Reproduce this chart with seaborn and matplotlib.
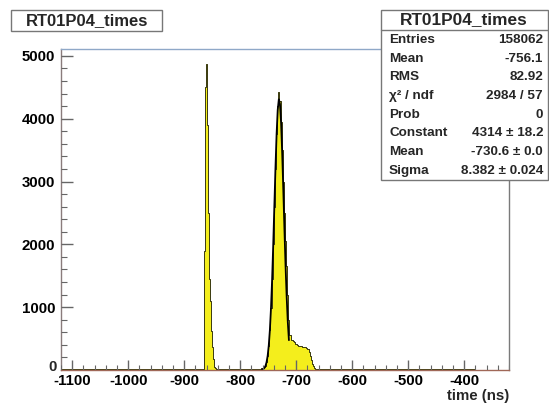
import numpy as np
import pandas as pd
import matplotlib
matplotlib.use("Agg")
import matplotlib.pyplot as plt
from matplotlib.patches import Rectangle
from matplotlib.ticker import MultipleLocator, FuncFormatter
import seaborn as sns

# flat background, 20 ns bins from -1120 to -320
BASE_EDGES = list(range(-1120, -300, 20))
BASE_COUNTS = [10, 12, 13, 11, 14, 13, 15, 14, 15, 14, 16, 17, 18, 20, 20, 19, 18, 20, 22, 24,
               24, 24, 22, 20, 18, 17, 16, 15, 15, 14, 14, 13, 13, 12, 12, 11, 10, 4, 0, 0]

# narrow prompt peak, 1 ns bins starting at -866
SPIKE_START = -866
SPIKE_COUNTS = [20, 200, 1900, 3800, 4500, 4870, 4400, 3900, 3200, 2500, 1900, 1450, 1100,
                820, 620, 480, 360, 250, 170, 100, 50, 25]

# main peak with tail, 2 ns bins starting at -762
MAIN_START = -762
MAIN_COUNTS = [30, 35, 45, 70, 130, 230, 390, 640, 990, 1450, 2000, 2600, 3200, 3750, 4200,
               4430, 4280, 3950, 3500, 3000, 2500, 2050, 1650, 1200, 800, 560, 480, 470, 460,
               440, 420, 410, 400, 390, 385, 375, 370, 365, 370, 360, 350, 330, 290, 230, 160,
               100, 60, 35, 20]

# gaussian fit curve
FIT_X = [-761, -759, -757, -755, -753, -751, -749, -747, -745, -743, -741, -739, -737,
         -735, -733, -731, -729, -727, -725, -723, -721, -719, -717, -715, -713]
FIT_Y = [6, 14, 30, 62, 122, 223, 388, 636, 986, 1444, 1998, 2612, 3222,
         3758, 4141, 4309, 4237, 3935, 3453, 2861, 2240, 1657, 1160, 765, 475]

HIST_NAME = "RT01P04_times"
STATS_NAMES = ["Entries", "Mean", "RMS", "χ² / ndf", "Prob", "Constant", "Mean", "Sigma"]
STATS_VALUES = ["158062", "-756.1", "82.92", "2984 / 57", "0",
                "4314 ± 18.2", "-730.6 ± 0.0", "8.382 ± 0.024"]

YELLOW = "#f4ee1c"
EDGE = "#3a3a10"
TICK = "#666666"

sns.set_style("ticks")
plt.rcParams.update({
    "font.family": ["Liberation Sans", "DejaVu Sans"],
    "font.weight": "bold",
    "axes.unicode_minus": False,
    "axes.axisbelow": False,
})

W, H = 549, 405
fig = plt.figure(figsize=(W / 100, H / 100), dpi=100)
ax = fig.add_axes([61 / W, 1 - 370 / H, 448 / W, 321 / H])


def hist_layer(edges, counts):
    edges = [float(e) for e in edges]
    centers = [(a + b) / 2 for a, b in zip(edges[:-1], edges[1:])]
    df = pd.DataFrame({"t": centers, "n": counts})
    sns.histplot(data=df, x="t", weights="n", bins=edges, element="step", fill=True,
                 color=YELLOW, edgecolor=EDGE, linewidth=0.7, alpha=1, ax=ax)


hist_layer(BASE_EDGES, BASE_COUNTS)
hist_layer(SPIKE_START + np.arange(len(SPIKE_COUNTS) + 1), SPIKE_COUNTS)
hist_layer(MAIN_START + 2 * np.arange(len(MAIN_COUNTS) + 1), MAIN_COUNTS)

fit = pd.DataFrame({"t": FIT_X, "y": FIT_Y})
sns.lineplot(data=fit, x="t", y="y", color="black", linewidth=1.3, ax=ax)

XMIN, XMAX, YMAX = -1120, -320, 5110
ax.set_xlim(XMIN, XMAX)
ax.set_ylim(0, YMAX)
ax.set_xlabel("")
ax.set_ylabel("")
ax.xaxis.set_major_locator(MultipleLocator(100))
ax.yaxis.set_major_locator(MultipleLocator(1000))
ax.yaxis.set_major_formatter(FuncFormatter(lambda v, _: "" if v == 0 else f"{v:.0f}"))
ax.tick_params(which="both", length=0, labelsize=10.8, labelcolor="black")
ax.tick_params(axis="x", pad=3)
ax.tick_params(axis="y", pad=4)

# ROOT-style inward ticks drawn as short segments
xt = ax.get_xaxis_transform()
yt = ax.get_yaxis_transform()
x_minor = [v for v in range(-1120, -319, 20) if v % 100 != 0]
x_major = list(range(-1100, -399, 100))
y_minor = [v for v in range(200, 5001, 200) if v % 1000 != 0]
y_major = list(range(1000, 5001, 1000))
ax.vlines(x_major, 0, 10 / 321, transform=xt, color=TICK, linewidth=1.0, zorder=4)
ax.vlines(x_minor, 0, 5 / 321, transform=xt, color=TICK, linewidth=0.8, zorder=4)
ax.hlines(y_major, 0, 12 / 448, transform=yt, color=TICK, linewidth=1.0, zorder=4)
ax.hlines(y_minor, 0, 6 / 448, transform=yt, color=TICK, linewidth=0.8, zorder=4)

# the "0" sits a little above the axis in the original
ax.annotate("0", xy=(0, 0), xycoords=yt, xytext=(-3, 2.5), textcoords="offset points",
            ha="right", va="center", fontsize=10.8, fontweight="bold")

ax.spines["top"].set_color("#8fa8c8")
ax.spines["left"].set_color("#8a7c7c")
ax.spines["right"].set_color("#7a7a7a")
ax.spines["bottom"].set_color("#a06858")
for s in ax.spines.values():
    s.set_linewidth(1.0)
    s.set_visible(True)

ax.text(1.0, -0.081, "time (ns)", transform=ax.transAxes, ha="right", va="center",
        fontsize=10.8, fontweight="bold")


def px(x, y):
    return x / W, 1 - y / H


# title box
x0, y0 = px(11, 31)
fig.patches.append(Rectangle((x0, y0), 151 / W, 21 / H, transform=fig.transFigure,
                             facecolor="white", edgecolor="#777777", linewidth=1.0))
fig.text(*px(87, 21), HIST_NAME, ha="center", va="center", fontsize=12, fontweight="bold")

# stats box
x0, y0 = px(381, 180)
fig.patches.append(Rectangle((x0, y0), 167 / W, 170 / H, transform=fig.transFigure,
                             facecolor="white", edgecolor="#777777", linewidth=1.0, zorder=5))
sep_y = 1 - 30 / H
fig.add_artist(plt.Line2D([381 / W, 548 / W], [sep_y, sep_y], transform=fig.transFigure,
                          color="#777777", linewidth=1.0, zorder=6))
fig.text(*px(464, 20), HIST_NAME, ha="center", va="center", fontsize=12.4,
         fontweight="bold", zorder=7)
for i, (name, val) in enumerate(zip(STATS_NAMES, STATS_VALUES)):
    yy = 40 + i * 18.7
    fig.text(*px(389, yy), name, ha="left", va="center", fontsize=9.7,
             fontweight="bold", zorder=7)
    fig.text(*px(543, yy), val, ha="right", va="center", fontsize=9.7,
             fontweight="bold", zorder=7)

fig.canvas.draw()
for lab in ax.get_xticklabels() + ax.get_yticklabels():
    lab.set_fontweight("bold")

fig.savefig("out.png", dpi=100)
